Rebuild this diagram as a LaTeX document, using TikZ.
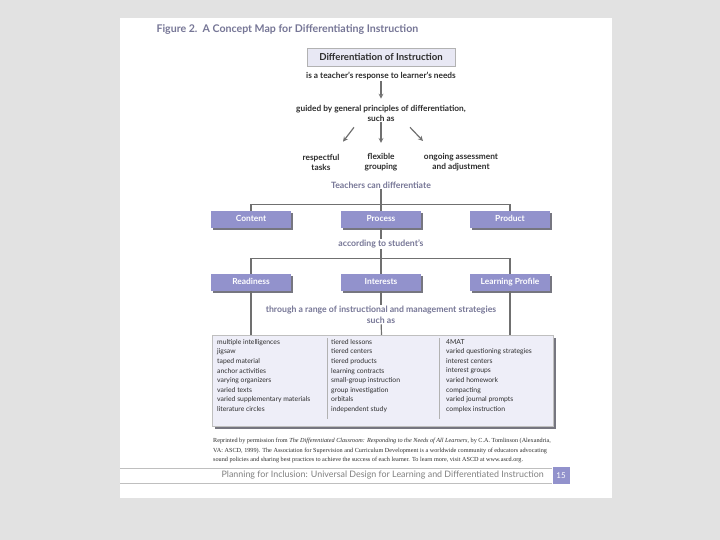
\documentclass[tikz,border=0pt]{standalone}
\usepackage{fontspec}
\setmainfont{Lato}
\newfontfamily\capfont{Liberation Serif}
\usetikzlibrary{shapes.geometric, arrows, shadows}

\definecolor{outerbg}{RGB}{226,226,226}
\definecolor{titlecol}{RGB}{118,118,150}
\definecolor{boxfill}{RGB}{146,146,204}
\definecolor{boxshadow}{RGB}{118,118,128}
\definecolor{headfill}{RGB}{232,232,244}
\definecolor{listfill}{RGB}{238,238,248}
\definecolor{linecol}{RGB}{112,112,112}
\definecolor{inkcol}{RGB}{45,45,45}

\tikzstyle{headbox} = [rectangle, minimum width=148pt, minimum height=18pt, draw=gray!60, fill=headfill, text=inkcol, font=\fontsize{9.6}{10}\selectfont\bfseries]
\tikzstyle{phrase} = [text=inkcol, align=center, inner sep=1pt, font=\fontsize{8.3}{10}\selectfont\bfseries]
\tikzstyle{linkword} = [text=titlecol, align=center, inner sep=1pt, font=\fontsize{8.7}{11}\selectfont\bfseries]
\tikzstyle{catbox} = [rectangle, minimum width=80pt, minimum height=17pt, text height=6pt, text depth=1.5pt, fill=boxfill, text=white, font=\fontsize{8.4}{9}\selectfont\bfseries, drop shadow={shadow xshift=2pt, shadow yshift=-2pt, fill=boxshadow, opacity=1}]
\tikzstyle{listbox} = [rectangle, minimum width=341pt, minimum height=91pt, fill=listfill, draw=gray!50, drop shadow={shadow xshift=3pt, shadow yshift=-3pt, fill=boxshadow, opacity=1}]
\tikzstyle{listcol} = [anchor=north west, align=left, inner sep=0pt, text=inkcol, font=\fontsize{6.8}{9.6}\selectfont]
\tikzstyle{arrow} = [line width=1.2pt, ->, >=stealth, draw=linecol]
\tikzstyle{link} = [line width=1.2pt, draw=linecol]
\tikzstyle{divider} = [line width=0.8pt, draw=gray!60]
\tikzstyle{rule} = [line width=0.6pt, draw=gray!50]

\begin{document}
\begin{tikzpicture}[x=1pt, y=-1pt, node distance=20pt]

            \fill [outerbg] (0,0) rectangle (720,540);
            \fill [white] (120,18) rectangle (612,498);
            \useasboundingbox (0,0) rectangle (720,540);

            \node (title) [anchor=west, text=titlecol, font=\fontsize{10.6}{12}\selectfont\bfseries] at (153,30) {Figure 2.\ \ A Concept Map for Differentiating Instruction};

            \node (diff) [headbox] at (381,57) {Differentiation of Instruction};

            \node (resp) [phrase, below of=diff, yshift=1pt] {is a teacher's response to learner's needs};

            \node (guided) [phrase, below of=resp, yshift=-17pt] {guided by general principles of differentiation,\\ such as};

            \node (flexible) [phrase, below of=guided, yshift=-29pt] {flexible\\ grouping};

            \node (respectful) [phrase, left of=flexible, xshift=-40pt] {respectful\\ tasks};

            \node (ongoing) [phrase, right of=flexible, xshift=60pt] {ongoing assessment\\ and adjustment};

            \node (teachers) [linkword, below of=flexible, yshift=-3pt] {Teachers can differentiate};

            \node (process) [catbox, below of=teachers, yshift=-14.5pt] {Process};

            \node (content) [catbox, left of=process, xshift=-110pt] {Content};

            \node (product) [catbox, right of=process, xshift=109pt] {Product};

            \node (according) [linkword, below of=process, yshift=-4.5pt] {according to student's};

            \node (interests) [catbox, below of=according, yshift=-18.5pt] {Interests};

            \node (readiness) [catbox, left of=interests, xshift=-110pt] {Readiness};

            \node (profile) [catbox, right of=interests, xshift=109pt] {Learning Profile};

            \node (through) [linkword, below of=interests, yshift=-12pt] {through a range of instructional and management strategies\\ such as};

            \node (strategies) [listbox, below of=through, yshift=-46pt, xshift=1.5pt] {};

            \node (colA) [listcol] at (217,339) {multiple intelligences\\ jigsaw\\ taped material\\ anchor activities\\ varying organizers\\ varied texts\\ varied supplementary materials\\ literature circles};

            \node (colB) [listcol] at (331,339) {tiered lessons\\ tiered centers\\ tiered products\\ learning contracts\\ small-group instruction\\ group investigation\\ orbitals\\ independent study};

            \node (colC) [listcol] at (446,339) {4MAT\\ varied questioning strategies\\ interest centers\\ interest groups\\ varied homework\\ compacting\\ varied journal prompts\\ complex instruction};

            \node (credit) [anchor=north west, align=left, inner sep=0pt, text=inkcol, font=\capfont\fontsize{6.2}{9.5}\selectfont] at (213,438) {Reprinted by permission from \textit{The Differentiated Classroom: Responding to the Needs of All Learners}, by C.A. Tomlinson (Alexandria,\\ VA: ASCD, 1999). The Association for Supervision and Curriculum Development is a worldwide community of educators advocating\\ sound policies and sharing best practices to achieve the success of each learner. To learn more, visit ASCD at www.ascd.org.};

            \node (pagenum) [rectangle, minimum width=17pt, minimum height=17pt, fill=boxfill, text=white, font=\fontsize{8}{8}\selectfont] at (561,475.5) {15};

            \node (running) [anchor=east, text=gray, font=\fontsize{8.9}{9}\selectfont] at ([xshift=-5pt]pagenum.west) {Planning for Inclusion: Universal Design for Learning and Differentiated Instruction};

            \coordinate (pageleft) at (120,468);
            \coordinate (pageleftlow) at (120,483);
            \coordinate (barA) at ([yshift=6pt]process.north);
            \coordinate (barB) at ([yshift=15pt]interests.north);

            \draw [arrow, shorten >=5pt] (resp) -- (guided);
            \draw [arrow, shorten >=9pt] (guided) -- (flexible);
            \draw [arrow] ([xshift=-27pt, yshift=-5pt]guided.south) -- ([xshift=22pt, yshift=11pt]respectful.north);
            \draw [arrow] ([xshift=29pt, yshift=-5pt]guided.south) -- ([xshift=-38pt, yshift=11pt]ongoing.north);
            \draw [link] (teachers) -- (process);
            \draw [link] (content) |- (barA) -| (product);
            \draw [link] (process) -- (according);
            \draw [link] (according) -- (interests);
            \draw [link] (readiness) |- (barB) -| (profile);
            \draw [link] (readiness) -- (readiness |- strategies.north);
            \draw [link] (profile) -- (profile |- strategies.north);
            \draw [link] (interests) -- (through);
            \draw [link] (through) -- (strategies);
            \draw [divider] ([xshift=-4pt, yshift=1pt]colB.north west) -- ([xshift=-4pt, yshift=-6pt]colB.south west);
            \draw [divider] ([xshift=-7pt, yshift=1pt]colC.north west) -- ([xshift=-7pt, yshift=-6pt]colC.south west);
            \draw [rule] (pageleft) -- (pageleft -| pagenum.west);
            \draw [rule] (pageleftlow) -- (pageleftlow -| pagenum.west);

\end{tikzpicture}
\end{document}
